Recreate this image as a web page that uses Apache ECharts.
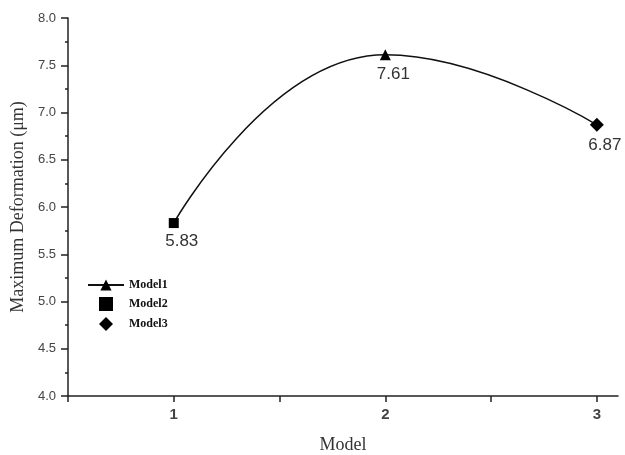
<!DOCTYPE html>
<html>
<head>
<meta charset="utf-8">
<script src="https://cdn.jsdelivr.net/npm/echarts@6/dist/echarts.min.js"></script>
<style>
  html, body { margin: 0; padding: 0; background: #fff; }
  #chart { width: 625px; height: 455px; }
</style>
</head>
<body>
<div id="chart"></div>
<script>
// Maximum deformation for each model
const models = [1, 2, 3];
const modelNames = ['Model1', 'Model2', 'Model3'];
const deformation = [5.83, 7.61, 6.87];
const xTickValues = [0.5, 1, 1.5, 2, 2.5, 3];
const xLabelValues = [1, 2, 3];

const serif = '"Liberation Serif", "Times New Roman", serif';
const sans = '"Liberation Sans", Arial, sans-serif';

// square and diamond legend icons that keep their aspect ratio
const squareIcon = 'path://M0,0L10,0L10,10L0,10Z';
const diamondIcon = 'path://M5,0L10,5L5,10L0,5Z';

const valueLabel = {
  show: true,
  position: 'bottom',
  distance: 5,
  offset: [8, 0],
  fontFamily: sans,
  fontSize: 17,
  color: '#333',
  formatter: p => p.value[1].toFixed(2)
};

const chart = echarts.init(document.getElementById('chart'), null, { renderer: 'canvas' });

chart.setOption({
  animation: false,
  backgroundColor: '#fff',
  grid: { left: 68, right: 7, top: 18, bottom: 59, containLabel: false, outerBoundsMode: 'none' },
  legend: {
    orient: 'vertical',
    left: 87,
    top: 279,
    padding: 0,
    itemWidth: 36,
    itemHeight: 14,
    itemGap: 6,
    data: [
      { name: modelNames[0] },
      { name: modelNames[1], icon: squareIcon },
      { name: modelNames[2], icon: diamondIcon }
    ],
    textStyle: { fontFamily: serif, fontWeight: 'bold', fontSize: 12, color: '#111' }
  },
  xAxis: {
    type: 'value',
    min: 0.5,
    max: 3.1,
    interval: 0.5,
    name: 'Model',
    nameLocation: 'middle',
    nameGap: 40,
    nameTextStyle: { fontFamily: serif, fontSize: 18, color: '#333' },
    splitLine: { show: false },
    axisLine: { lineStyle: { color: '#222', width: 1.5 } },
    axisTick: { customValues: xTickValues, length: 6, lineStyle: { color: '#222', width: 1.5 } },
    axisLabel: {
      customValues: xLabelValues,
      fontFamily: sans, fontSize: 15, fontWeight: 'bold', color: '#444', margin: 11
    }
  },
  yAxis: {
    type: 'value',
    min: 4,
    max: 8,
    interval: 0.5,
    name: 'Maximum Deformation (\u03bcm)',
    nameLocation: 'middle',
    nameGap: 41,
    nameTextStyle: { fontFamily: serif, fontSize: 18, color: '#333' },
    splitLine: { show: false },
    axisLine: { show: true, lineStyle: { color: '#222', width: 1.5 } },
    axisTick: { length: 7, lineStyle: { color: '#222', width: 1.5 } },
    minorTick: { show: true, splitNumber: 2, length: 3, lineStyle: { color: '#222', width: 1.5 } },
    axisLabel: {
      fontFamily: sans, fontSize: 13, color: '#444', margin: 12,
      formatter: v => v.toFixed(1)
    }
  },
  series: [
    {
      name: modelNames[0],
      type: 'line',
      smooth: 0.5,
      symbol: 'triangle',
      symbolSize: 11,
      color: '#000',
      lineStyle: { color: '#111', width: 1.5 },
      itemStyle: { color: '#000' },
      data: models.map((m, i) => i === 1
        ? { value: [m, deformation[i]], label: valueLabel }
        : { value: [m, deformation[i]], symbol: 'none' }),
      z: 2
    },
    {
      name: modelNames[1],
      type: 'scatter',
      symbol: 'rect',
      symbolSize: 10,
      itemStyle: { color: '#000', opacity: 1 },
      label: valueLabel,
      data: [[models[0], deformation[0]]],
      z: 3
    },
    {
      name: modelNames[2],
      type: 'scatter',
      symbol: 'diamond',
      symbolSize: 14,
      itemStyle: { color: '#000', opacity: 1 },
      label: valueLabel,
      data: [[models[2], deformation[2]]],
      z: 3
    }
  ]
});
</script>
</body>
</html>
